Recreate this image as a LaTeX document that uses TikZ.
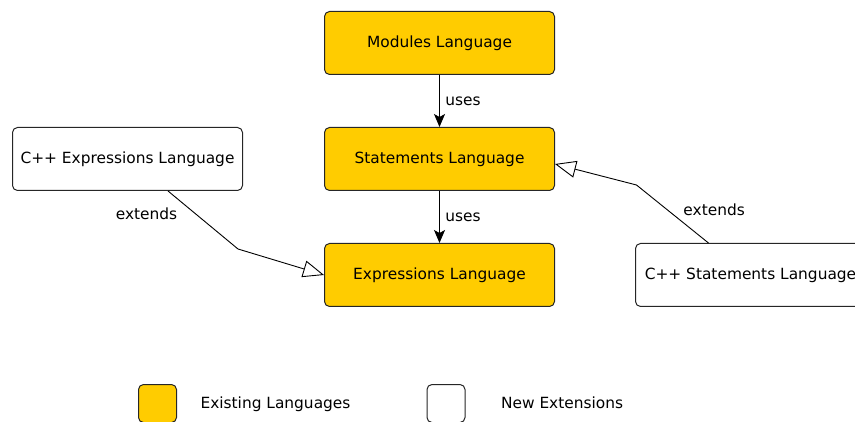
\documentclass[tikz,border=0pt]{standalone}
\usepackage{fontspec}
\setmainfont{DejaVu Sans}
\usetikzlibrary{arrows.meta,positioning}
\definecolor{langyellow}{HTML}{FFCC00}

\begin{document}
\begin{tikzpicture}[x=1pt,y=1pt,
  font=\fontsize{15.4}{18}\selectfont,
  lang/.style={rectangle,rounded corners=5pt,draw=black!85,line width=1pt,
    minimum width=230pt,minimum height=63pt,inner sep=0pt},
  existing/.style={lang,fill=langyellow},
  extension/.style={lang,fill=white},
  swatch/.style={rectangle,rounded corners=5pt,draw=black!85,line width=1pt,
    minimum width=38pt,minimum height=38pt,inner sep=0pt},
  legendtext/.style={text height=11pt,text depth=3.5pt,yshift=-1.5pt},
  uses/.style={line width=1pt,-{Stealth[length=13pt,width=11pt,inset=3pt]}},
  extends/.style={line width=0.9pt,-{Triangle[open,length=21pt,width=17pt,line width=0.9pt]}}]
  \useasboundingbox (0,0) rectangle (855,421);
  \clip (0,0) rectangle (855,421);
  % existing languages
  \node[existing] (modules) at (439.5,378) {Modules Language};
  \node[existing] (stmt) [below=52pt of modules] {Statements Language};
  \node[existing] (expr) [below=52pt of stmt] {Expressions Language};
  % C++ extensions
  \node[extension] (cppexpr) [left=81pt of stmt] {C++ Expressions Language};
  \node[extension] (cppstmt) [right=80pt of expr] {C++ Statements Language};
  \draw[uses] (modules) -- node[right=2pt] {uses} (stmt);
  \draw[uses] (stmt) -- node[right=2pt] {uses} (expr);
  \coordinate (bendexpr) at (238,172);
  \coordinate (bendstmt) at (636.5,236);
  \draw[extends] ([xshift=40.5pt]cppexpr.south) -- node[pos=0.4,left=15pt] {extends}
    (bendexpr) -- (expr.west);
  \draw[extends] ([xshift=-42pt]cppstmt.north) -- node[pos=0.4,above right] {extends}
    (bendstmt) -- ([yshift=-5pt]stmt.east);
  % legend
  \node[swatch,fill=langyellow] (legex) at (157.5,17.5) {};
  \node[legendtext] (legextext) [right=20pt of legex] {Existing Languages};
  \node[swatch,fill=white] (legnew) at (446,17.5) {};
  \node[legendtext] (legnewtext) [right=32pt of legnew] {New Extensions};
\end{tikzpicture}
\end{document}
